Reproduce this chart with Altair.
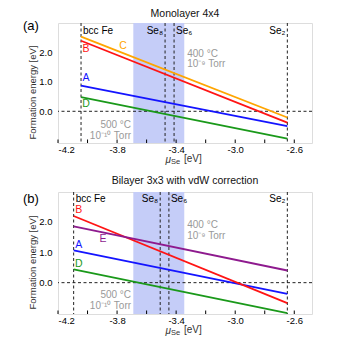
import altair as alt
import pandas as pd

FONT = "Liberation Sans"

X_DOMAIN = [-4.2, -2.48]
X_TICKS = [-4.2, -4.0, -3.8, -3.6, -3.4, -3.2, -3.0, -2.8, -2.6]
X_LABELED = [-4.2, -3.8, -3.4, -3.0, -2.6]
Y_TICKS = [0.0, 1.0, 2.0]

SERIES_NAMES = ["A", "B", "C", "D", "E"]
SERIES_COLORS = ["#1414ff", "#ff1414", "#ffa500", "#1a991a", "#8e1a8e"]

BAND = [-3.69, -3.345]
REF_NAMES = ["bcc Fe", "Se₈", "Se₆", "Se₂"]
REF_ALIGN = ["left", "right", "left", "right"]

# ---- panel (a) ----
A_TITLE = "Monolayer 4x4"
A_TAG = "(a)"
A_YDOMAIN = [-1.07, 2.98]
A_MU = [-4.044, -2.647]
A_SERIES = ["A", "B", "C", "D"]
A_START = [0.87, 2.38, 2.52, 0.48]
A_END = [-0.50, -0.38, -0.21, -0.92]
A_REF_X = [-4.044, -3.475, -3.414, -2.647]
A_REF_Y = 2.72
A_LET_X = [-4.01, -4.01, -3.76, -4.01]
A_LET_Y = [1.12, 2.10, 2.19, 0.25]
A_HOT = ["400 °C", "10⁻⁹ Torr"]
A_HOT_X = -3.325
A_HOT_Y = [1.93, 1.61]
A_COLD = ["500 °C", "10⁻¹⁰ Torr"]
A_COLD_X = -3.705
A_COLD_Y = [-0.46, -0.82]

# ---- panel (b) ----
B_TITLE = "Bilayer 3x3 with vdW correction"
B_TAG = "(b)"
B_YDOMAIN = [-1.03, 2.98]
B_MU = [-4.094, -2.647]
B_SERIES = ["A", "B", "D", "E"]
B_START = [1.06, 2.19, 0.44, 1.85]
B_END = [-0.37, -0.67, -1.00, 0.40]
B_REF_X = [-4.094, -3.508, -3.449, -2.647]
B_REF_Y = 2.75
B_LET_X = [-4.06, -4.06, -4.06, -3.895]
B_LET_Y = [1.25, 2.40, 0.61, 1.42]
B_HOT = ["400 °C", "10⁻⁹ Torr"]
B_HOT_X = -3.325
B_HOT_Y = [1.91, 1.55]
B_COLD = ["500 °C", "10⁻¹⁰ Torr"]
B_COLD_X = -3.705
B_COLD_Y = [-0.40, -0.76]

W = 254


def panel(title, tag, ydomain, H, toff, tag_y, mu, series, start, end, ref_x,
          ref_y, let_x, let_y, hot, hot_x, hot_y, cold, cold_x, cold_y):
    xs = alt.Scale(domain=X_DOMAIN, nice=False, zero=False)
    ys = alt.Scale(domain=ydomain, nice=False, zero=False)
    xax = alt.Axis(values=X_LABELED, title=None, ticks=False, domain=False,
                   grid=False, labelFontSize=9.5, labelPadding=1,
                   labelColor="#000", labelFont=FONT,
                   labelExpr="replace(format(datum.value, '.1f'), '\u2212', '-')")
    yax = alt.Axis(values=Y_TICKS, title="Formation energy [eV]", ticks=False,
                   domain=False, grid=False, format=".1f", labelFontSize=9.5,
                   labelPadding=6, labelColor="#000", labelFont=FONT,
                   titleFont=FONT, titleFontSize=9.5, titleFontWeight="normal",
                   titleColor="#333", titleX=-21, titleY=H / 2 + 9)
    cscale = alt.Scale(domain=SERIES_NAMES, range=SERIES_COLORS)

    band = alt.Chart(pd.DataFrame({"x0": [BAND[0]], "x1": [BAND[1]]})).mark_rect(
        color="#c5cdf8").encode(
        x=alt.X("x0:Q", scale=xs, axis=xax), x2="x1:Q",
        y=alt.value(0), y2=alt.value(H))

    zero = alt.Chart(pd.DataFrame({"y": [0.0]})).mark_rule(
        color="#222", strokeDash=[3, 2.5], strokeWidth=1).encode(
        y=alt.Y("y:Q", scale=ys, axis=yax))

    refdf = pd.DataFrame({"x": ref_x, "name": REF_NAMES, "al": REF_ALIGN,
                          "y": [ref_y] * 4})
    vrules = alt.Chart(refdf).mark_rule(
        color="#222", strokeDash=[3, 2.5], strokeWidth=1).encode(
        x=alt.X("x:Q", scale=xs, axis=xax))

    rows = []
    for s, a, b in zip(series, start, end):
        rows.append({"s": s, "mu": mu[0], "E": a})
        rows.append({"s": s, "mu": mu[1], "E": b})
    lines = alt.Chart(pd.DataFrame(rows)).mark_line(strokeWidth=1.8).encode(
        x=alt.X("mu:Q", scale=xs, axis=xax),
        y=alt.Y("E:Q", scale=ys, axis=yax),
        color=alt.Color("s:N", scale=cscale, legend=None),
        detail="s:N")

    letdf = pd.DataFrame({"s": series, "x": let_x, "y": let_y})
    letters = alt.Chart(letdf).mark_text(fontSize=10.5, font=FONT).encode(
        x=alt.X("x:Q", scale=xs, axis=xax),
        y=alt.Y("y:Q", scale=ys, axis=yax),
        text="s:N",
        color=alt.Color("s:N", scale=cscale, legend=None))

    reflabels = []
    for al in ["left", "right"]:
        reflabels.append(alt.Chart(refdf[refdf["al"] == al]).mark_text(
            fontSize=10, font=FONT, align=al, color="#000",
            dx=2 if al == "left" else -2).encode(
            x=alt.X("x:Q", scale=xs, axis=xax),
            y=alt.Y("y:Q", scale=ys, axis=yax),
            text="name:N"))

    hotdf = pd.DataFrame({"t": hot, "x": [hot_x] * 2, "y": hot_y})
    hotl = alt.Chart(hotdf).mark_text(fontSize=10, font=FONT, align="left",
                                      color="#999").encode(
        x=alt.X("x:Q", scale=xs, axis=xax),
        y=alt.Y("y:Q", scale=ys, axis=yax), text="t:N")
    colddf = pd.DataFrame({"t": cold, "x": [cold_x] * 2, "y": cold_y})
    coldl = alt.Chart(colddf).mark_text(fontSize=10, font=FONT, align="right",
                                        color="#999").encode(
        x=alt.X("x:Q", scale=xs, axis=xax),
        y=alt.Y("y:Q", scale=ys, axis=yax), text="t:N")

    ticks = alt.Chart(pd.DataFrame({"t": X_TICKS})).mark_rule(
        color="#000", strokeWidth=1).encode(
        x=alt.X("t:Q", scale=xs, axis=xax),
        y=alt.value(H), y2=alt.value(H - 3.5))

    tagl = alt.Chart(pd.DataFrame({"t": [tag]})).mark_text(
        fontSize=13, font=FONT, align="left", baseline="middle",
        color="#000").encode(x=alt.value(-35), y=alt.value(tag_y), text="t:N")

    mu_l = alt.Chart(pd.DataFrame({"t": ["μ"]})).mark_text(
        fontSize=10, font=FONT, fontStyle="italic", align="right",
        baseline="middle", color="#333").encode(
        x=alt.value(113), y=alt.value(H + 17), text="t:N")
    se_l = alt.Chart(pd.DataFrame({"t": ["Se"]})).mark_text(
        fontSize=7.5, font=FONT, align="left", baseline="middle",
        color="#333").encode(x=alt.value(113), y=alt.value(H + 19), text="t:N")
    ev_l = alt.Chart(pd.DataFrame({"t": ["[eV]"]})).mark_text(
        fontSize=10, font=FONT, align="left", baseline="middle",
        color="#333").encode(x=alt.value(126), y=alt.value(H + 16), text="t:N")

    return alt.layer(band, zero, vrules, lines, letters, *reflabels, hotl, coldl,
                     ticks, tagl, mu_l, se_l, ev_l).properties(
        width=W, height=H,
        title=alt.TitleParams(title, fontSize=10.5, fontWeight="normal",
                              font=FONT, offset=toff, color="#111"))


pa = panel(A_TITLE, A_TAG, A_YDOMAIN, 120, 1, 3, A_MU, A_SERIES, A_START, A_END,
           A_REF_X, A_REF_Y, A_LET_X, A_LET_Y, A_HOT, A_HOT_X, A_HOT_Y,
           A_COLD, A_COLD_X, A_COLD_Y)
pb = panel(B_TITLE, B_TAG, B_YDOMAIN, 122, 5, 7, B_MU, B_SERIES, B_START, B_END,
           B_REF_X, B_REF_Y, B_LET_X, B_LET_Y, B_HOT, B_HOT_X, B_HOT_Y,
           B_COLD, B_COLD_X, B_COLD_Y)

chart = alt.vconcat(pa, pb, spacing=9).properties(
    padding={"left": 14, "top": 0, "right": 5, "bottom": 0}
).configure_view(stroke="#000", strokeWidth=1.5).configure(font=FONT)

chart.save("out.html", embed_options={"renderer": "svg", "actions": False})
